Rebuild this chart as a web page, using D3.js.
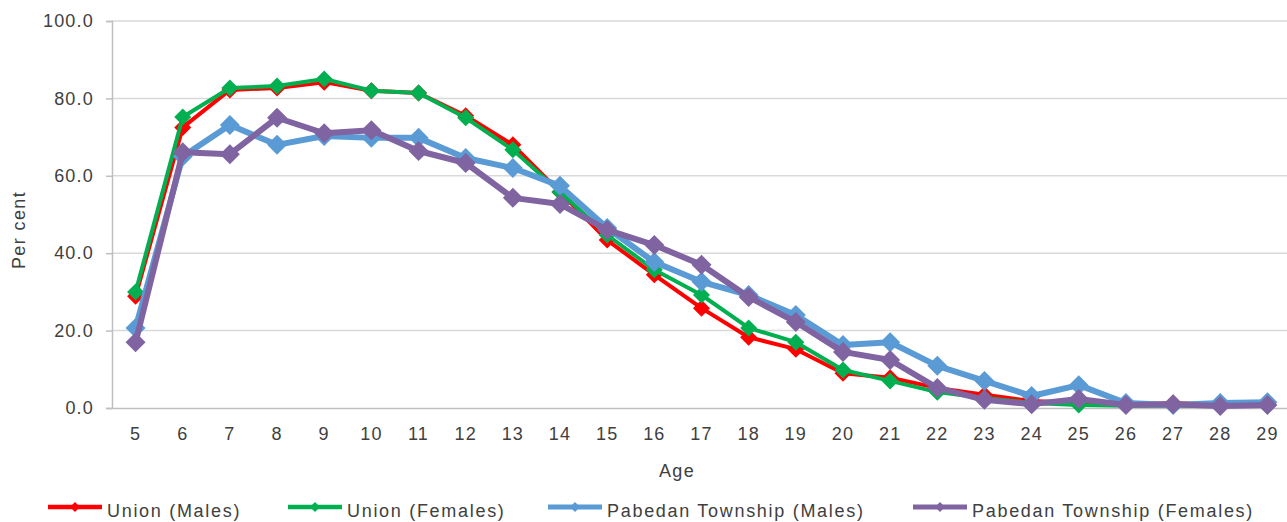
<!DOCTYPE html>
<html><head><meta charset="utf-8">
<script src="https://cdn.jsdelivr.net/npm/d3@7"></script>
<style>body{margin:0;background:#fff;overflow:hidden;} text{font-family:"Liberation Sans",Arial,sans-serif;}</style>
</head><body>
<svg id="c" width="1287" height="522"></svg>
<script>
const ages = [5,6,7,8,9,10,11,12,13,14,15,16,17,18,19,20,21,22,23,24,25,26,27,28,29];
const unionMales   = [28.9,72.5,82.2,82.7,84.2,82.0,81.4,75.5,68.0,55.8,43.4,34.4,25.8,18.3,15.2,9.0,7.8,5.2,3.4,1.8,1.3,0.8,1.3,0.8,0.8];
const unionFemales = [30.0,75.2,82.7,83.2,85.0,82.0,81.4,75.0,66.7,55.8,44.7,35.7,29.2,20.7,17.0,9.8,7.0,4.1,2.6,1.3,0.8,0.6,0.6,0.5,0.5];
const pabMales     = [20.7,65.0,73.1,68.0,70.3,69.8,69.8,64.6,62.0,57.4,46.5,37.7,32.6,29.2,24.0,16.3,17.0,10.9,7.0,3.1,5.9,1.3,0.8,1.3,1.5];
const pabFemales   = [17.0,66.1,65.6,75.0,71.0,71.8,66.4,63.3,54.3,52.7,46.0,42.1,37.0,28.7,22.2,14.5,12.4,5.2,2.1,1.0,2.3,0.8,1.0,0.5,0.8];
const seriesNames = ["Union (Males)","Union (Females)","Pabedan Township (Males)","Pabedan Township (Females)"];
const seriesColors = ["#FF0000","#00B050","#5B9BD5","#8064A2"];
const yTicks = [0,20,40,60,80,100];

const series = [unionMales, unionFemales, pabMales, pabFemales];
const svg = d3.select("#c");
const L = 112, R = 1291, T = 21, B = 408;
const FS = 18, LS = 1.4, TXT = "#404040";
const x = d3.scaleBand().domain(ages).range([L, R]);
const y = d3.scaleLinear().domain([0,100]).range([B, T]);

// gridlines
svg.append("g").selectAll("line").data(yTicks.filter(d=>d>0)).join("line")
  .attr("x1", L).attr("x2", R).attr("y1", d=>y(d)).attr("y2", d=>y(d))
  .attr("stroke", "#D9D9D9").attr("stroke-width", 1.5);

// y axis
const ya = svg.append("g").attr("transform", `translate(${L},0)`)
  .call(d3.axisLeft(y).tickValues(yTicks).tickFormat(d3.format(".1f")).tickSize(6).tickPadding(12));
ya.select(".domain").attr("stroke", "#BFBFBF").attr("stroke-width", 1.5);
ya.selectAll(".tick line").attr("stroke", "#BFBFBF").attr("stroke-width", 1.5);
ya.selectAll(".tick text").attr("font-size", FS).attr("fill", TXT).attr("letter-spacing", 1.2)
  .attr("font-family", "Liberation Sans, Arial, sans-serif");

// x axis
const xa = svg.append("g").attr("transform", `translate(0,${B})`)
  .call(d3.axisBottom(x).tickSize(0).tickPadding(19));
xa.select(".domain").attr("stroke", "#BFBFBF").attr("stroke-width", 1.5);
xa.selectAll(".tick text").attr("font-size", FS).attr("fill", TXT).attr("letter-spacing", 1.2)
  .attr("font-family", "Liberation Sans, Arial, sans-serif");

// axis titles
svg.append("text").attr("x", 677).attr("y", 477).attr("text-anchor", "middle")
  .attr("font-size", FS).attr("fill", TXT).attr("letter-spacing", LS).text("Age");
svg.append("text").attr("transform", "translate(25,230) rotate(-90)").attr("text-anchor", "middle")
  .attr("font-size", FS).attr("fill", TXT).attr("letter-spacing", LS).text("Per cent");

// lines and markers
const cx = d => x(d) + x.bandwidth()/2;
const diamond = (s) => `M0,${-s}L${s},0L0,${s}L${-s},0Z`;
series.forEach((vals, i) => {
  const pts = ages.map((a, j) => [cx(a), y(vals[j])]);
  const w = i < 2 ? 4 : 6;
  const ms = i < 2 ? 8.5 : 10;
  svg.append("path").attr("d", d3.line()(pts)).attr("fill", "none")
    .attr("stroke", seriesColors[i]).attr("stroke-width", w).attr("stroke-linejoin", "round");
  svg.append("g").selectAll("path").data(pts).join("path")
    .attr("transform", p => `translate(${p[0]},${p[1]})`)
    .attr("d", diamond(ms)).attr("fill", seriesColors[i]);
});

// legend
const legX = [48, 288, 548, 913];
const lg = svg.append("g");
seriesNames.forEach((n, i) => {
  const g = lg.append("g").attr("transform", `translate(${legX[i]},507)`);
  g.append("line").attr("x1", 0).attr("x2", 54).attr("stroke", seriesColors[i]).attr("stroke-width", i < 2 ? 4.5 : 5);
  g.append("path").attr("transform", "translate(27,0)").attr("d", diamond(5)).attr("fill", seriesColors[i]);
  g.append("text").attr("x", 59).attr("y", 9.5).attr("font-size", FS).attr("fill", TXT)
    .attr("letter-spacing", 1.7).text(n);
});
</script>
</body></html>
